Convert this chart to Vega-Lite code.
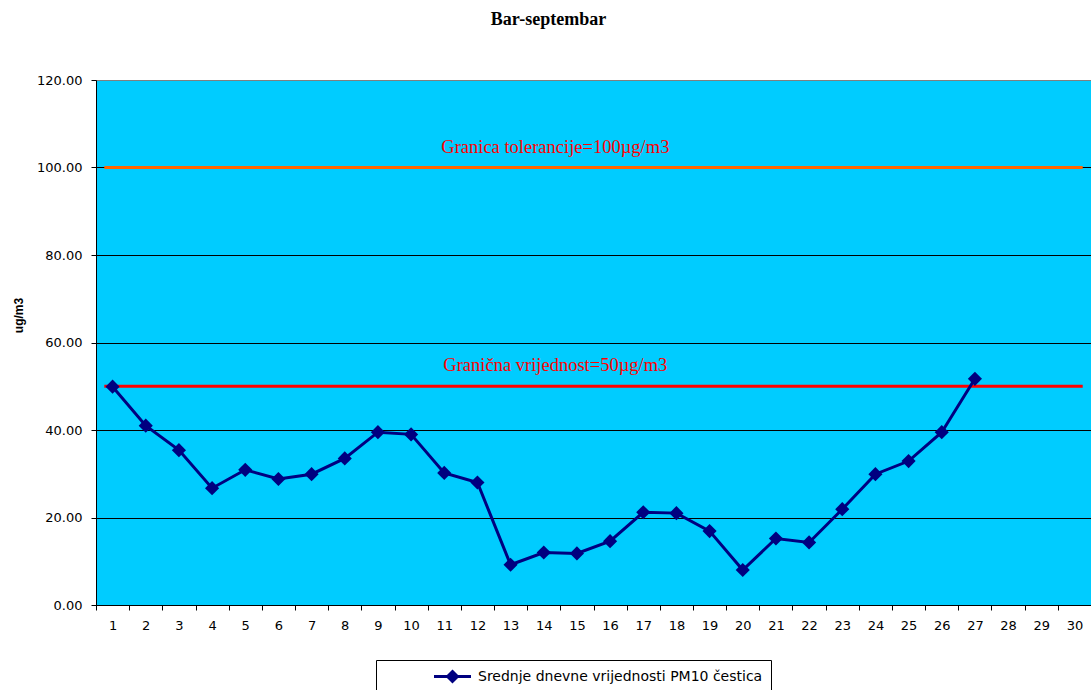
{
  "$schema": "https://vega.github.io/schema/vega-lite/v6.json",
  "width": 995,
  "height": 525,
  "autosize": "none",
  "padding": {"left": 96, "top": 80, "right": 0, "bottom": 85},
  "background": "white",
  "title": {"text": "Bar-septembar", "font": "Liberation Serif", "fontSize": 18, "fontWeight": "bold", "color": "black", "anchor": "middle", "dx": -45, "offset": 31, "baseline": "alphabetic"},
  "config": {
    "view": {"fill": "#00CCFF", "stroke": "#808080", "strokeWidth": 1}
  },
  "datasets": {
    "pm": [
      {"day": 1, "value": 49.9, "series": "Srednje dnevne vrijednosti PM10 čestica"},
      {"day": 2, "value": 41.0, "series": "Srednje dnevne vrijednosti PM10 čestica"},
      {"day": 3, "value": 35.4, "series": "Srednje dnevne vrijednosti PM10 čestica"},
      {"day": 4, "value": 26.7, "series": "Srednje dnevne vrijednosti PM10 čestica"},
      {"day": 5, "value": 30.9, "series": "Srednje dnevne vrijednosti PM10 čestica"},
      {"day": 6, "value": 28.8, "series": "Srednje dnevne vrijednosti PM10 čestica"},
      {"day": 7, "value": 29.9, "series": "Srednje dnevne vrijednosti PM10 čestica"},
      {"day": 8, "value": 33.5, "series": "Srednje dnevne vrijednosti PM10 čestica"},
      {"day": 9, "value": 39.5, "series": "Srednje dnevne vrijednosti PM10 čestica"},
      {"day": 10, "value": 39.0, "series": "Srednje dnevne vrijednosti PM10 čestica"},
      {"day": 11, "value": 30.2, "series": "Srednje dnevne vrijednosti PM10 čestica"},
      {"day": 12, "value": 28.0, "series": "Srednje dnevne vrijednosti PM10 čestica"},
      {"day": 13, "value": 9.2, "series": "Srednje dnevne vrijednosti PM10 čestica"},
      {"day": 14, "value": 12.0, "series": "Srednje dnevne vrijednosti PM10 čestica"},
      {"day": 15, "value": 11.8, "series": "Srednje dnevne vrijednosti PM10 čestica"},
      {"day": 16, "value": 14.6, "series": "Srednje dnevne vrijednosti PM10 čestica"},
      {"day": 17, "value": 21.2, "series": "Srednje dnevne vrijednosti PM10 čestica"},
      {"day": 18, "value": 21.0, "series": "Srednje dnevne vrijednosti PM10 čestica"},
      {"day": 19, "value": 16.9, "series": "Srednje dnevne vrijednosti PM10 čestica"},
      {"day": 20, "value": 8.0, "series": "Srednje dnevne vrijednosti PM10 čestica"},
      {"day": 21, "value": 15.2, "series": "Srednje dnevne vrijednosti PM10 čestica"},
      {"day": 22, "value": 14.3, "series": "Srednje dnevne vrijednosti PM10 čestica"},
      {"day": 23, "value": 21.9, "series": "Srednje dnevne vrijednosti PM10 čestica"},
      {"day": 24, "value": 29.9, "series": "Srednje dnevne vrijednosti PM10 čestica"},
      {"day": 25, "value": 32.9, "series": "Srednje dnevne vrijednosti PM10 čestica"},
      {"day": 26, "value": 39.5, "series": "Srednje dnevne vrijednosti PM10 čestica"},
      {"day": 27, "value": 51.7, "series": "Srednje dnevne vrijednosti PM10 čestica"}
    ],
    "limits": [
      {"name": "Granica tolerancije=100µg/m3", "value": 100, "start": 1, "end": 30},
      {"name": "Granična vrijednost=50µg/m3", "value": 50, "start": 1, "end": 30}
    ]
  },
  "resolve": {"scale": {"color": "independent"}},
  "encoding": {
    "y": {
      "field": "value", "type": "quantitative",
      "scale": {"domain": [0, 120], "nice": false, "zero": true},
      "axis": {
        "title": "ug/m3", "format": ".2f", "values": [0, 20, 40, 60, 80, 100, 120],
        "grid": true,
        "gridColor": {"condition": {"test": "datum.value == 120", "value": "#808080"}, "value": "black"},
        "gridWidth": 1,
        "tickSize": 5, "tickColor": "black", "domainColor": "black",
        "labelFont": "DejaVu Sans", "labelFontSize": 13, "labelColor": "black", "labelPadding": 9,
        "titleFont": "Liberation Sans", "titleFontSize": 12, "titleFontWeight": "bold", "titleColor": "black",
        "titleX": -78, "titleY": 235, "titleBaseline": "middle"
      }
    }
  },
  "layer": [
    {
      "data": {"name": "limits"},
      "mark": {"type": "rule", "strokeWidth": 3},
      "encoding": {
        "x": {
          "field": "start", "type": "ordinal", "bandPosition": 0.25,
          "scale": {"domain": [1,2,3,4,5,6,7,8,9,10,11,12,13,14,15,16,17,18,19,20,21,22,23,24,25,26,27,28,29,30], "paddingInner": 0, "paddingOuter": 0},
          "axis": {
            "title": null, "labelAngle": 0, "tickBand": "extent", "tickSize": 5, "tickColor": "black", "domainColor": "black",
            "labelFont": "DejaVu Sans", "labelFontSize": 13, "labelColor": "black", "labelPadding": 9, "grid": false
          }
        },
        "x2": {"field": "end", "bandPosition": 0.75},
        "color": {"field": "name", "type": "nominal", "scale": {"domain": ["Granica tolerancije=100µg/m3", "Granična vrijednost=50µg/m3"], "range": ["#FF6600", "#FF0000"]}, "legend": null}
      }
    },
    {
      "data": {"name": "limits"},
      "mark": {"type": "text", "font": "Liberation Serif", "fontSize": 18.5, "color": "#FF0000", "align": "center", "baseline": "alphabetic", "dy": -15, "dx": -5},
      "encoding": {
        "x": {"datum": 15, "type": "ordinal", "bandPosition": 0},
        "text": {"field": "name"}
      }
    },
    {
      "data": {"name": "pm"},
      "mark": {"type": "line", "color": "#000080", "strokeWidth": 3},
      "encoding": {
        "x": {"field": "day", "type": "ordinal"}
      }
    },
    {
      "data": {"name": "pm"},
      "mark": {"type": "point", "shape": "diamond", "filled": true, "size": 200, "opacity": 1},
      "encoding": {
        "x": {"field": "day", "type": "ordinal"},
        "color": {
          "field": "series", "type": "nominal",
          "scale": {"range": ["#000080"]},
          "legend": {
            "title": null, "orient": "none", "legendX": 280, "legendY": 580,
            "strokeColor": "black", "fillColor": "white", "padding": 8, "cornerRadius": 0,
            "symbolType": "M-2.64,0L2.64,0M0,-0.7L0.7,0L0,0.7L-0.7,0Z",
            "symbolSize": 196, "symbolStrokeWidth": 3, "symbolStrokeColor": "#000080", "symbolFillColor": "#000080", "symbolOpacity": 1,
            "symbolOffset": 60, "labelOffset": 17,
            "labelFont": "DejaVu Sans", "labelFontSize": 14, "labelColor": "black", "labelLimit": 0
          }
        }
      }
    }
  ]
}
